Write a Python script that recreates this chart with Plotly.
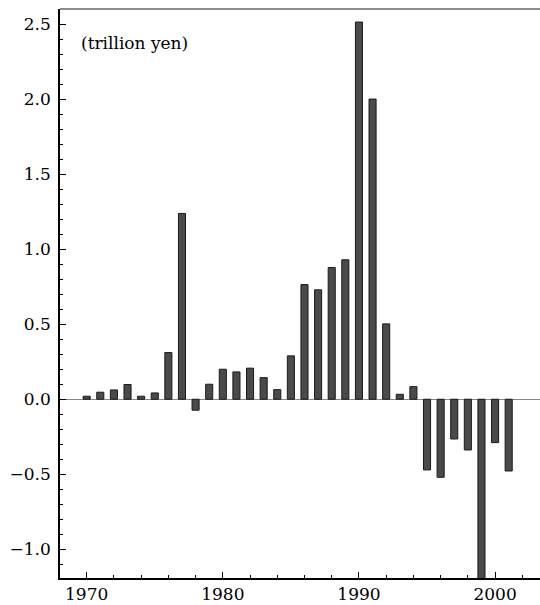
import plotly.graph_objects as go

years = list(range(1970, 2002))
values = [0.02, 0.047, 0.062, 0.098, 0.02, 0.042, 0.311, 1.238, -0.073, 0.10,
          0.20, 0.182, 0.207, 0.144, 0.064, 0.289, 0.764, 0.729, 0.878, 0.929,
          2.513, 2.00, 0.502, 0.033, 0.084, -0.471, -0.52, -0.265, -0.338, -1.25,
          -0.289, -0.478]
y_ticks = [-1.0, -0.5, 0.0, 0.5, 1.0, 1.5, 2.0, 2.5]
x_ticks = [1970, 1980, 1990, 2000]
unit_label = "(trillion yen)"

FONT = "DejaVu Serif"

fig = go.Figure(go.Bar(
    x=years, y=values, width=0.52,
    marker=dict(color="#4a4a4a", line=dict(color="#1a1a1a", width=1)),
))

fig.update_layout(
    width=540, height=605,
    margin=dict(l=60, r=0, t=9, b=27),
    plot_bgcolor="white", paper_bgcolor="white",
    showlegend=False,
    font=dict(family=FONT, size=17, color="black"),
    xaxis=dict(
        range=[1968.04, 2003.3], tickvals=x_ticks, ticktext=[str(v) for v in x_ticks],
        ticks="inside", ticklen=6, tickcolor="black", tickwidth=1,
        tickfont=dict(family=FONT, size=17, color="black"),
        minor=dict(dtick=2, tick0=1970, ticks="inside", ticklen=3, tickcolor="black"),
        showline=True, linecolor="black", linewidth=1.5,
        showgrid=False, zeroline=False, automargin=False,
    ),
    yaxis=dict(
        range=[-1.191, 2.6], tickvals=y_ticks, ticktext=[f"{v:.1f}".replace("-", "\u2212") for v in y_ticks],
        ticks="inside", ticklen=6, tickcolor="black", tickwidth=1,
        tickfont=dict(family=FONT, size=17, color="black"),
        minor=dict(dtick=0.1, tick0=0, ticks="inside", ticklen=3, tickcolor="black"),
        showline=True, linecolor="black", linewidth=1.5,
        showgrid=False, zeroline=True, zerolinecolor="#888888", zerolinewidth=1,
        automargin=False, ticklabelstandoff=4,
    ),
    shapes=[dict(type="line", xref="paper", yref="paper", x0=0, x1=1, y0=1, y1=1,
                 line=dict(color="#666666", width=1.5))],
    annotations=[dict(text=unit_label, xref="paper", yref="paper", x=0.04, y=0.94,
                      xanchor="left", yanchor="middle", showarrow=False,
                      font=dict(family=FONT, size=17, color="black"))],
)

fig.write_html("out.html")
